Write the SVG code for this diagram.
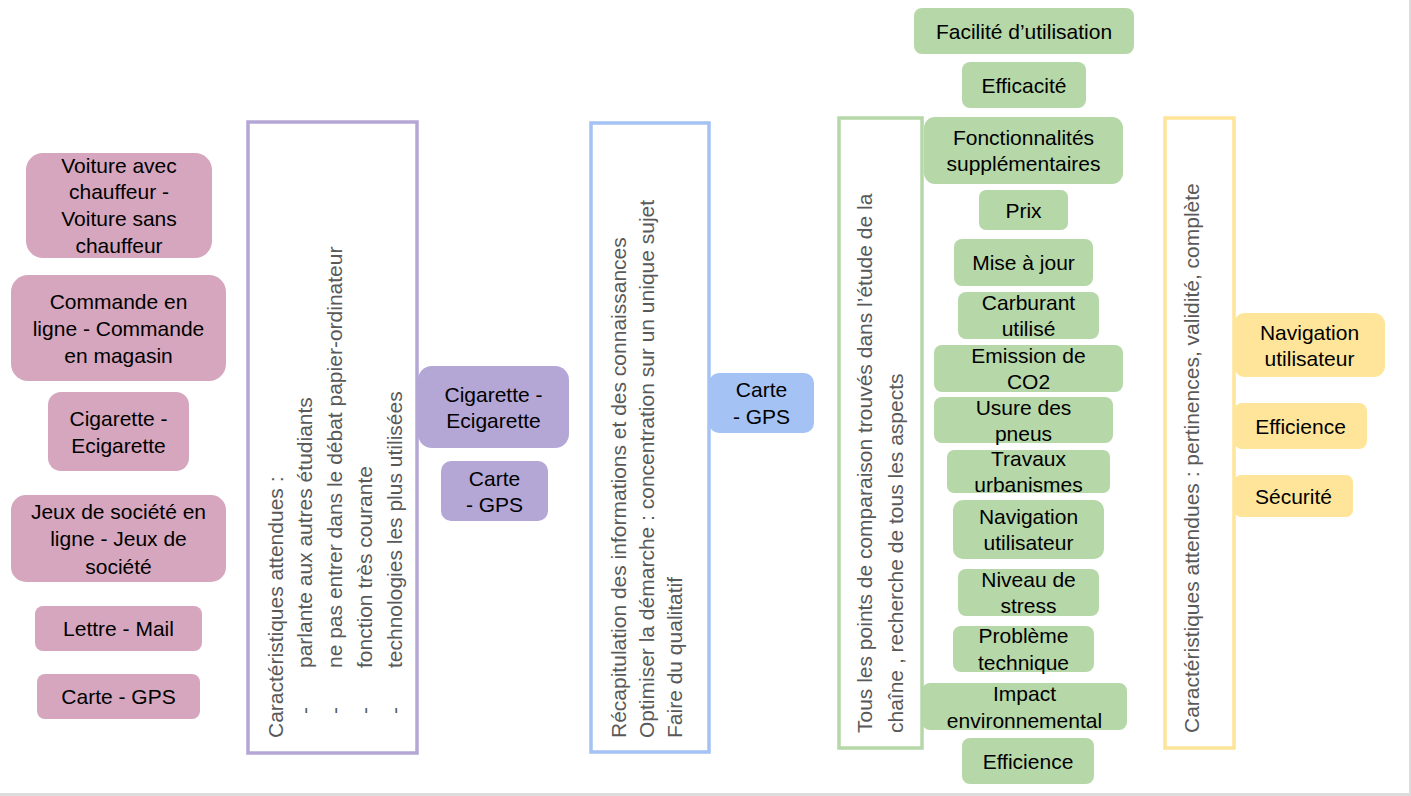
<svg xmlns="http://www.w3.org/2000/svg" width="1411" height="796" viewBox="0 0 1411 796">
<style>
text{font-family:"Liberation Sans",Arial,sans-serif;font-size:21px;fill:#000}
.c{text-anchor:middle}
.pink{fill:#d5a6bd}
.purple{fill:#b4a7d6}
.blue{fill:#a4c2f4}
.green{fill:#b6d7a8}
.yellow{fill:#ffe599}
.frame{fill:#fff;stroke-width:3.5}
.rot{fill:#595959}
</style>
<rect x="0" y="0" width="1411" height="796" fill="#dcdcdc"/>
<rect x="0" y="0" width="1409" height="793" fill="#fff"/>
<g id="connectors"/>

<g id="pink1"><rect class="pink" x="26" y="153" width="186" height="105" rx="17"/>
<text class="c" x="119" y="172.5">Voiture avec</text><text class="c" x="119" y="199">chauffeur -</text><text class="c" x="119" y="225.5">Voiture sans</text><text class="c" x="119" y="252.5">chauffeur</text></g>
<g id="pink2"><rect class="pink" x="11" y="275" width="215" height="106" rx="17"/>
<text class="c" x="118.5" y="309">Commande en</text><text class="c" x="118.5" y="336">ligne - Commande</text><text class="c" x="118.5" y="362.5">en magasin</text></g>
<g id="pink3"><rect class="pink" x="48" y="392" width="141" height="79" rx="13"/>
<text class="c" x="118.5" y="426">Cigarette -</text><text class="c" x="118.5" y="452.5">Ecigarette</text></g>
<g id="pink4"><rect class="pink" x="11" y="495" width="215" height="87" rx="15"/>
<text class="c" x="118.5" y="519">Jeux de société en</text><text class="c" x="118.5" y="546">ligne - Jeux de</text><text class="c" x="118.5" y="573.5">société</text></g>
<g id="pink5"><rect class="pink" x="35" y="606" width="167" height="45" rx="8"/>
<text class="c" x="118.5" y="635.5">Lettre - Mail</text></g>
<g id="pink6"><rect class="pink" x="37" y="674" width="163" height="45" rx="8"/>
<text class="c" x="118.5" y="704">Carte - GPS</text></g>

<g id="purpleFrame"><rect class="frame" x="248" y="122" width="169" height="631" stroke="#b4a7d6"/>
<text class="rot" transform="translate(283,738) rotate(-90)">Caractéristiques attendues :</text>
<text class="rot" transform="translate(312,714) rotate(-90)">-</text><text class="rot" transform="translate(312,668) rotate(-90)">parlante aux autres étudiants</text>
<text class="rot" transform="translate(342,714) rotate(-90)">-</text><text class="rot" transform="translate(342,668) rotate(-90)">ne pas entrer dans le débat papier-ordinateur</text>
<text class="rot" transform="translate(372,714) rotate(-90)">-</text><text class="rot" transform="translate(372,668) rotate(-90)">fonction très courante</text>
<text class="rot" transform="translate(402,714) rotate(-90)">-</text><text class="rot" transform="translate(402,668) rotate(-90)">technologies les plus utilisées</text></g>
<g id="purple1"><rect class="purple" x="418" y="366" width="151" height="82" rx="14"/>
<text class="c" x="493.5" y="401.5">Cigarette -</text><text class="c" x="493.5" y="427.5">Ecigarette</text></g>
<g id="purple2"><rect class="purple" x="441" y="461" width="107" height="60" rx="10"/>
<text class="c" x="494.5" y="485.5">Carte</text><text class="c" x="494.5" y="511.5">- GPS</text></g>

<g id="blueFrame"><rect class="frame" x="591" y="123" width="118" height="629" stroke="#a4c2f4"/>
<text class="rot" transform="translate(626,738) rotate(-90)">Récapitulation des informations et des connaissances</text>
<text class="rot" transform="translate(654,738) rotate(-90)">Optimiser la démarche : concentration sur un unique sujet</text>
<text class="rot" transform="translate(682,738) rotate(-90)">Faire du qualitatif</text></g>
<g id="blue1"><rect class="blue" x="709" y="373" width="105" height="60" rx="10"/>
<text class="c" x="761.5" y="397">Carte</text><text class="c" x="761.5" y="424">- GPS</text></g>

<g id="greenFrame"><rect class="frame" x="839" y="118" width="83" height="630" stroke="#b6d7a8"/>
<text class="rot" transform="translate(872,733) rotate(-90)">Tous les points de comparaison trouvés dans l’étude de la</text>
<text class="rot" transform="translate(903,733) rotate(-90)">chaîne , recherche de tous les aspects</text></g>
<g id="g1"><rect class="green" x="914" y="8" width="220" height="46" rx="8"/><text class="c" x="1024" y="38.5">Facilité d’utilisation</text></g>
<g id="g2"><rect class="green" x="962" y="62" width="124" height="46" rx="8"/><text class="c" x="1024" y="92.5">Efficacité</text></g>
<g id="g3"><rect class="green" x="924" y="117" width="199" height="67" rx="11"/><text class="c" x="1023.5" y="144.5">Fonctionnalités</text><text class="c" x="1023.5" y="170.5">supplémentaires</text></g>
<g id="g4"><rect class="green" x="979" y="190" width="89" height="40" rx="7"/><text class="c" x="1023.5" y="217.5">Prix</text></g>
<g id="g5"><rect class="green" x="954" y="239" width="139" height="47" rx="8"/><text class="c" x="1023.5" y="269.5">Mise à jour</text></g>
<g id="g6"><rect class="green" x="958" y="292" width="141" height="47" rx="8"/><text class="c" x="1028.5" y="309.5">Carburant</text><text class="c" x="1028.5" y="335.5">utilisé</text></g>
<g id="g7"><rect class="green" x="934" y="345" width="189" height="47" rx="8"/><text class="c" x="1028.5" y="362.5">Emission de</text><text class="c" x="1028.5" y="388.5">CO2</text></g>
<g id="g8"><rect class="green" x="934" y="397" width="179" height="46" rx="8"/><text class="c" x="1023.5" y="414.5">Usure des</text><text class="c" x="1023.5" y="440.5">pneus</text></g>
<g id="g9"><rect class="green" x="947" y="450" width="163" height="43" rx="7"/><text class="c" x="1028.5" y="466">Travaux</text><text class="c" x="1028.5" y="491.5">urbanismes</text></g>
<g id="g10"><rect class="green" x="953" y="500" width="151" height="59" rx="10"/><text class="c" x="1028.5" y="524">Navigation</text><text class="c" x="1028.5" y="550">utilisateur</text></g>
<g id="g11"><rect class="green" x="958" y="569" width="141" height="47" rx="8"/><text class="c" x="1028.5" y="586.5">Niveau de</text><text class="c" x="1028.5" y="612.5">stress</text></g>
<g id="g12"><rect class="green" x="953" y="626" width="141" height="46" rx="8"/><text class="c" x="1023.5" y="643">Problème</text><text class="c" x="1023.5" y="669.5">technique</text></g>
<g id="g13"><rect class="green" x="922" y="683" width="205" height="47" rx="8"/><text class="c" x="1024.5" y="700.5">Impact</text><text class="c" x="1024.5" y="727.5">environnemental</text></g>
<g id="g14"><rect class="green" x="962" y="738" width="132" height="46" rx="8"/><text class="c" x="1028" y="768.5">Efficience</text></g>

<g id="yellowFrame"><rect class="frame" x="1165" y="118" width="69" height="630" stroke="#ffe599"/>
<text class="rot" transform="translate(1199,733) rotate(-90)">Caractéristiques attendues : pertinences, validité, complète</text></g>
<g id="y1"><rect class="yellow" x="1234" y="313" width="151" height="64" rx="11"/><text class="c" x="1309.5" y="340">Navigation</text><text class="c" x="1309.5" y="366">utilisateur</text></g>
<g id="y2"><rect class="yellow" x="1234" y="403" width="133" height="46" rx="8"/><text class="c" x="1300.5" y="434">Efficience</text></g>
<g id="y3"><rect class="yellow" x="1234" y="475" width="119" height="42" rx="7"/><text class="c" x="1293.5" y="503.5">Sécurité</text></g>
</svg>
